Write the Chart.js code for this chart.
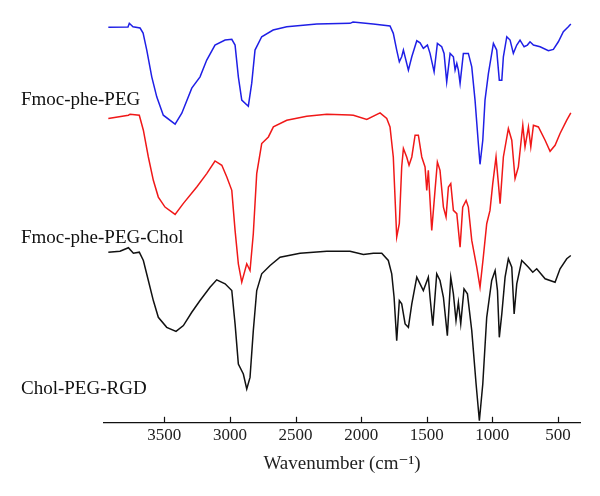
<!DOCTYPE html>
<html>
<head>
<meta charset="utf-8">
<script src="https://cdn.jsdelivr.net/npm/chart.js@4/dist/chart.umd.min.js"></script>
<style>
  html, body { margin: 0; padding: 0; background: #fff; }
  #wrap { width: 600px; height: 496px; }
</style>
</head>
<body>
<div id="wrap"><canvas id="myChart"></canvas></div>
<script>
// series names (drawn as labels at the left)
var names = ["Fmoc-phe-PEG", "Fmoc-phe-PEG-Chol", "Chol-PEG-RGD"];

// x tick labels, cm-1
var xTicks = [3500, 3000, 2500, 2000, 1500, 1000, 500];

// Fmoc-phe-PEG (blue) - wavenumber / transmittance (stacked, arbitrary units)
var pegWn = [3927,3777,3767,3739,3685,3662,3634,3596,3558,3508,3418,3367,3291,3228,3177,3114,3037,2986,2961,2936,2910,2860,2834,2809,2758,2671,2567,2338,2085,2062,1909,1780,1755,1729,1709,1691,1678,1640,1614,1576,1551,1526,1495,1475,1444,1419,1386,1368,1348,1322,1297,1284,1271,1259,1246,1221,1183,1157,1132,1107,1094,1073,1056,1030,992,967,947,928,916,890,865,840,814,789,758,733,713,687,636,573,535,497,459,421,402];
var pegT  = [394.7,395,398.7,395.3,394,389,372,345.3,325.3,307,298,309,334,345.3,362,377,382,382.7,377,345.3,322,316,339,372,385.3,392,395.3,398,398.7,400,398,396,388.7,372,360.3,365.3,372,352,365.3,381.3,379.3,373.7,377,368.7,350.3,378.7,375.3,368.7,340.3,368.7,365.3,352,358.7,352,338.7,368.7,368.7,355.3,322,279,258,282,322,348.7,378.7,372,342,342,365.3,385.3,382,368.7,377,382,375.3,377,380.3,377,375.3,371.3,372.7,380.3,390.3,395.3,398];

// Fmoc-phe-PEG-Chol (red)
var cholWn = [3927,3774,3761,3691,3660,3622,3584,3546,3495,3418,3355,3253,3177,3114,3062,3024,2986,2961,2936,2910,2872,2847,2822,2796,2758,2707,2669,2567,2415,2262,2085,2059,1957,1856,1805,1780,1755,1729,1709,1691,1678,1653,1635,1614,1589,1564,1538,1513,1500,1488,1462,1437,1419,1399,1373,1353,1335,1317,1297,1271,1246,1226,1200,1183,1157,1119,1094,1069,1043,1018,997,972,954,941,916,878,852,827,802,768,751,725,707,687,649,598,560,522,484,433,402];
var cholT  = [303.7,307,308,307,292,265.3,242,225.3,215.3,208,219,235.3,248.7,261.3,257,245.3,232,192,158.7,140.3,158.7,152,188.7,248.7,278.7,285.3,295.3,302,306,308,307.3,307,302.7,309.3,303.7,295.3,265.3,185.3,199,255.3,273.7,265.3,257,265.3,287,287,265.3,255.3,232,252,192,232,260.3,252,215.3,205.3,235.3,238.7,212,208.7,175.3,215.3,222,215.3,182,155.3,135.3,165.3,198.7,212,238.7,265.3,238.7,218.7,265.3,293.7,282,243.7,255.3,297,275.3,295.3,275.3,297,295.3,282,271,277,288.7,302,309.3];

// Chol-PEG-RGD (black)
var rgdWn = [3927,3838,3774,3736,3691,3660,3622,3584,3546,3482,3411,3355,3291,3228,3152,3101,3037,2986,2961,2936,2898,2872,2847,2822,2796,2758,2694,2618,2466,2262,2085,1983,1907,1843,1793,1767,1749,1729,1709,1691,1665,1640,1614,1576,1551,1526,1488,1475,1454,1424,1399,1373,1343,1317,1297,1277,1259,1241,1216,1190,1157,1124,1099,1073,1043,1005,979,961,947,928,903,878,852,834,814,776,751,725,692,662,598,522,484,433,402];
var rgdT  = [170.3,171.3,174.7,169.3,170.3,162,142,122,105.3,95.3,91.3,97,110.3,122,135.3,142.7,138.7,132,98.7,58.7,48.7,33.7,45.3,92,132,148.7,157,165.3,169.3,171.3,171.3,168,169.3,169.3,162,148.7,125.3,82,122,118.7,98.7,95.3,118.7,145.3,138.7,132,145.3,125.3,97,148.7,142,125.3,87,145.3,128.7,102,120.3,98.7,133.7,128.7,92,38.7,2,38.7,105.3,142,152,132,85.3,108.7,145.3,163.7,155.3,108.7,138.7,162,158.7,155.3,150.3,153.7,143.7,140.3,153.7,163.7,167];

var colors = ["#1f1fe6", "#f01818", "#111111"];

function pts(wn, t) {
  return wn.map(function (w, i) { return { x: w, y: t[i] }; });
}

var serif = "'Liberation Serif', 'DejaVu Serif', serif";

// ticks drawn upward from the axis line + series labels on the left
var extras = {
  id: "extras",
  afterDraw: function (chart) {
    var ctx = chart.ctx;
    var xs = chart.scales.x;
    var bottom = chart.chartArea.bottom;
    ctx.save();
    ctx.strokeStyle = "#111";
    ctx.lineWidth = 1.2;
    xs.ticks.forEach(function (t) {
      var px = Math.round(xs.getPixelForValue(t.value)) + 0.5;
      ctx.beginPath();
      ctx.moveTo(px, bottom);
      ctx.lineTo(px, bottom - 6);
      ctx.stroke();
    });
    ctx.fillStyle = "#111";
    ctx.font = "19px " + serif;
    ctx.textAlign = "left";
    ctx.textBaseline = "alphabetic";
    ctx.fillText(names[0], 21, 105);
    ctx.fillText(names[1], 21, 243);
    ctx.fillText(names[2], 21, 394);
    ctx.restore();
  }
};

var ctx = document.getElementById("myChart").getContext("2d");
var myChart = new Chart(ctx, {
  type: "line",
  data: {
    datasets: [
      { label: names[0], data: pts(pegWn, pegT), borderColor: colors[0] },
      { label: names[1], data: pts(cholWn, cholT), borderColor: colors[1] },
      { label: names[2], data: pts(rgdWn, rgdT), borderColor: colors[2] }
    ]
  },
  options: {
    responsive: true,
    maintainAspectRatio: false,
    animation: false,
    elements: {
      point: { radius: 0 },
      line: { borderWidth: 1.5, tension: 0, fill: false }
    },
    layout: { padding: { left: 104, right: 20, top: 12, bottom: 14 } },
    plugins: {
      legend: { display: false },
      tooltip: { enabled: false }
    },
    scales: {
      x: {
        type: "linear",
        reverse: true,
        min: 332,
        max: 3960,
        grid: { display: false, drawTicks: false },
        border: { display: true, color: "#111", width: 1.3 },
        afterBuildTicks: function (scale) {
          scale.ticks = xTicks.map(function (v) { return { value: v }; });
        },
        ticks: {
          color: "#222",
          padding: 3,
          font: { family: serif, size: 17 },
          callback: function (v) { return v; }
        },
        title: {
          display: true,
          text: "Wavenumber (cm\u207B\u00B9)",
          color: "#222",
          font: { family: serif, size: 19 },
          padding: { top: 3, bottom: 7 }
        }
      },
      y: {
        display: false,
        min: 0,
        max: 410
      }
    }
  },
  plugins: [extras]
});
</script>
</body>
</html>
